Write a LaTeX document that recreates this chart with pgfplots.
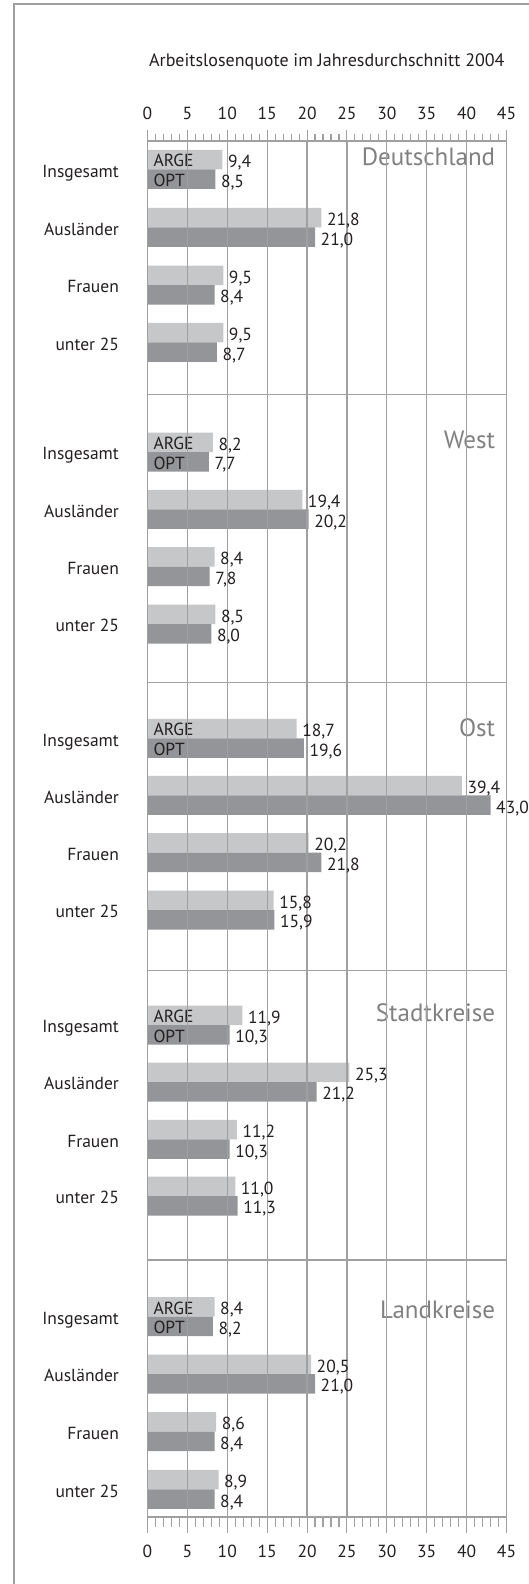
\documentclass[border=0pt]{standalone}
\usepackage{fontspec}
\setmainfont{PT Sans}
\usepackage{pgfplots}
\pgfplotsset{compat=1.18}
\definecolor{argec}{HTML}{C6C7C9}
\definecolor{optc}{HTML}{939598}
\definecolor{gridc}{HTML}{A0A0A0}
\definecolor{panelc}{HTML}{808080}
\definecolor{txt}{HTML}{231F20}
\newcommand{\fs}{\fontsize{17.5}{20}\selectfont}
\newcommand{\fb}{\fontsize{25}{30}\selectfont}
\pgfkeys{/pgf/number format/assume math mode=true}
\tikzset{inlab/.style={anchor=base west, font=\fs, text=txt, inner sep=0pt},
         panlab/.style={anchor=base east, font=\fb, text=panelc, inner sep=0pt}}
\begin{document}
\begin{tikzpicture}[x=1pt,y=1pt]
\useasboundingbox (0,0) rectangle (529,-1584);
\draw[gridc, line width=1.3pt] (14,-1600) -- (14,-4) -- (545,-4);
\node[anchor=base, font=\fontsize{18}{21}\selectfont, text=txt, inner sep=0pt] at (326.8,-67) {Arbeitslosenquote im Jahresdurchschnitt 2004};
% bottom ticks axis
\begin{axis}[
  at={(147.5pt,-141pt)}, anchor=north west,
  scale only axis, width=359pt, height=1376pt,
  xmin=0, xmax=45, ymin=141, ymax=1517, y dir=reverse,
  ytick=\empty,
  xtick={0,5,...,45}, minor x tick num=4,
  xtick pos=left, xticklabel pos=left,
  tick align=outside,
  major tick length=16pt, minor tick length=10pt,
  x tick style={gridc, line width=1.1pt},
  minor x tick style={gridc, line width=1.1pt},
  axis line style={gridc, line width=1.2pt},
  xticklabel style={font=\fs, text=txt, anchor=base, yshift=-24pt},
]
\end{axis}
\begin{axis}[
  at={(147.5pt,-141pt)}, anchor=north west,
  scale only axis, width=359pt, height=1376pt,
  xmin=0, xmax=45, ymin=141, ymax=1517, y dir=reverse,
  axis on top,
  xbar, bar width=19.5, bar shift=0pt,
  xtick={0,5,...,45}, minor x tick num=4,
  xtick pos=right, xticklabel pos=right,
  tick align=outside,
  major tick length=11.5pt, minor tick length=7.5pt,
  x tick style={gridc, line width=1.1pt},
  minor x tick style={gridc, line width=1.1pt},
  xmajorgrids, major grid style={gridc, line width=1.2pt},
  axis line style={gridc, line width=1.2pt},
  xticklabel style={font=\fs, text=txt, anchor=base, yshift=10pt},
  ytick={169.3,227.3,285,342.3,452,509.3,566.7,624,738.3,795.3,852.7,910,1025,1082,1139.3,1196,1316.7,1374,1431.7,1489.3},
  yticklabels={Insgesamt,Ausländer,Frauen,unter 25,Insgesamt,Ausländer,Frauen,unter 25,Insgesamt,Ausländer,Frauen,unter 25,Insgesamt,Ausländer,Frauen,unter 25,Insgesamt,Ausländer,Frauen,unter 25},
  y tick style={draw=none},
  yticklabel style={font=\fs, text=txt, anchor=base east, yshift=-7.7pt, xshift=-13.6pt},
  extra y ticks={394.5,682.5,970.5,1260},
  extra y tick labels={},
  extra y tick style={grid=major},
  nodes near coords={\pgfmathprintnumber[fixed,fixed zerofill,precision=1,use comma]{\pgfplotspointmeta}},
  point meta=x,
  nodes near coords style={font=\fs, text=txt, anchor=base west, inner sep=0pt, xshift=5.5pt, yshift=-8pt},
]
\addplot[fill=argec, draw=none] coordinates {
(9.4,159.55) (21.8,217.55) (9.5,275.25) (9.5,332.55)
(8.2,442.25) (19.4,499.55) (8.4,556.95) (8.5,614.25)
(18.7,728.55) (39.4,785.55) (20.2,842.95) (15.8,900.25)
(11.9,1015.25) (25.3,1072.25) (11.2,1129.55) (11.0,1186.25)
(8.4,1306.95) (20.5,1364.25) (8.6,1421.95) (8.9,1479.55)
};
\addplot[fill=optc, draw=none] coordinates {
(8.5,179.05) (21.0,237.05) (8.4,294.75) (8.7,352.05)
(7.7,461.75) (20.2,519.05) (7.8,576.45) (8.0,633.75)
(19.6,748.05) (43.0,805.05) (21.8,862.45) (15.9,919.75)
(10.3,1034.75) (21.2,1091.75) (10.3,1149.05) (11.3,1205.75)
(8.2,1326.45) (21.0,1383.75) (8.4,1441.45) (8.4,1499.05)
};
\node[inlab] at (axis cs:0.73,166.85) {ARGE};
\node[inlab] at (axis cs:0.73,186.55) {OPT};
\node[inlab] at (axis cs:0.73,449.55) {ARGE};
\node[inlab] at (axis cs:0.73,469.25) {OPT};
\node[inlab] at (axis cs:0.73,735.85) {ARGE};
\node[inlab] at (axis cs:0.73,755.55) {OPT};
\node[inlab] at (axis cs:0.73,1022.55) {ARGE};
\node[inlab] at (axis cs:0.73,1042.25) {OPT};
\node[inlab] at (axis cs:0.73,1314.25) {ARGE};
\node[inlab] at (axis cs:0.73,1333.95) {OPT};
\node[panlab] at (axis cs:43.6,165.7) {Deutschland};
\node[panlab] at (axis cs:43.6,448.3) {West};
\node[panlab] at (axis cs:43.6,736.5) {Ost};
\node[panlab] at (axis cs:43.6,1021.7) {Stadtkreise};
\node[panlab] at (axis cs:43.6,1318.3) {Landkreise};
\end{axis}
\end{tikzpicture}
\end{document}
